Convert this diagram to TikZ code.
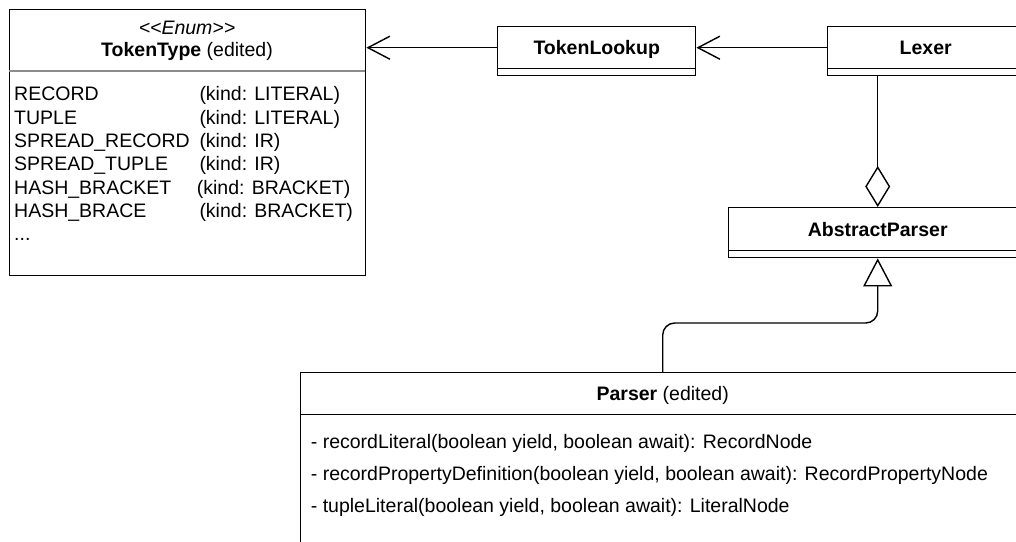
\documentclass[tikz,border=0pt]{standalone}
\usepackage{fontspec}
\setmainfont{Liberation Sans}
\usetikzlibrary{arrows.meta}
\begin{document}
\begin{tikzpicture}[x=1pt,y=-1pt,
  every node/.style={font=\fontsize{19.5}{23.4}\selectfont},
  box/.style={draw=black, line width=1.4pt, inner sep=0pt, anchor=north west},
  hdr/.style={box, text height=14pt, text depth=0pt, align=center},
  sepline/.style={draw=black!45, line width=1.4pt},
  txt/.style={inner sep=0pt, anchor=base west},
  link/.style={draw=black, line width=1.4pt},
  assoc/.style={link, -{Straight Barb[length=22pt, width=23pt]}},
  aggr/.style={link, -{Diamond[open, length=41pt, width=25pt]}},
  gen/.style={link, rounded corners=12pt, -{Triangle[open, length=28pt, width=29pt]}}
]
\useasboundingbox (0,0) rectangle (1016,541);

% TokenType enum
\node[box, minimum width=356pt, minimum height=266pt] (tt) at (9,9) {};
\draw[sepline] (9,71) -- (365,71);
\node[inner sep=0pt, anchor=base] (ttst) at (187,34) {\textit{<\kern0pt<Enum>\kern0pt>}};
\node[inner sep=0pt, anchor=base] (ttnm) at (187,56.7) {\textbf{TokenType} (edited)};
\node[txt] (r1) at (14,100.7) {RECORD};
\node[txt] (r2) at (14,124) {TUPLE};
\node[txt] (r3) at (14,147.3) {SPREAD\_RECORD};
\node[txt] (r4) at (14,170.7) {SPREAD\_TUPLE};
\node[txt] (r5) at (14,194) {HASH\_BRACKET};
\node[txt] (r6) at (14,217.3) {HASH\_BRACE};
\node[txt] (r7) at (14,240.7) {...};
\node[txt] (k1) at (199.3,100.7) {(kind: LITERAL)};
\node[txt] (k2) at (199.3,124) {(kind: LITERAL)};
\node[txt] (k3) at (199.3,147.3) {(kind: IR)};
\node[txt] (k4) at (199.3,170.7) {(kind: IR)};
\node[txt] (k5) at (196.7,194) {(kind: BRACKET)};
\node[txt] (k6) at (199.3,217.3) {(kind: BRACKET)};

% TokenLookup
\node[hdr, minimum width=198pt, minimum height=42pt] (tl) at (497,26) {\textbf{TokenLookup}};
\node[box, minimum width=198pt, minimum height=7pt] (tlc) at (497,68) {};

% Lexer
\node[hdr, minimum width=196pt, minimum height=42pt] (lx) at (827,26) {\textbf{Lexer}};
\node[box, minimum width=196pt, minimum height=7pt] (lxc) at (827,68) {};

% AbstractParser
\node[hdr, minimum width=298pt, minimum height=43pt] (ap) at (728,207) {\textbf{AbstractParser}};
\node[box, minimum width=298pt, minimum height=7pt] (apc) at (728,250) {};

% Parser
\node[hdr, minimum width=724pt, minimum height=42pt] (ps) at (300,372) {\textbf{Parser} (edited)};
\node[box, minimum width=724pt, minimum height=160pt] (psc) at (300,414) {};
\node[txt] (m1) at (310.7,448.5) {- recordLiteral(boolean yield, boolean await): RecordNode};
\node[txt] (m2) at (310.7,480.5) {- recordPropertyDefinition(boolean yield, boolean await): RecordPropertyNode};
\node[txt] (m3) at (310.7,512) {- tupleLiteral(boolean yield, boolean await): LiteralNode};

% connectors
\draw[assoc] (lx.west) -- (tl.east);
\draw[assoc] (tl.west) -- (tl.west -| tt.east);
\draw[aggr] (lxc.south -| ap.north) -- (ap.north);
\draw[gen] (ps.north) -- (ps.north |- 0,323) -- (apc.south |- 0,323) -- (apc.south);
\end{tikzpicture}
\end{document}
